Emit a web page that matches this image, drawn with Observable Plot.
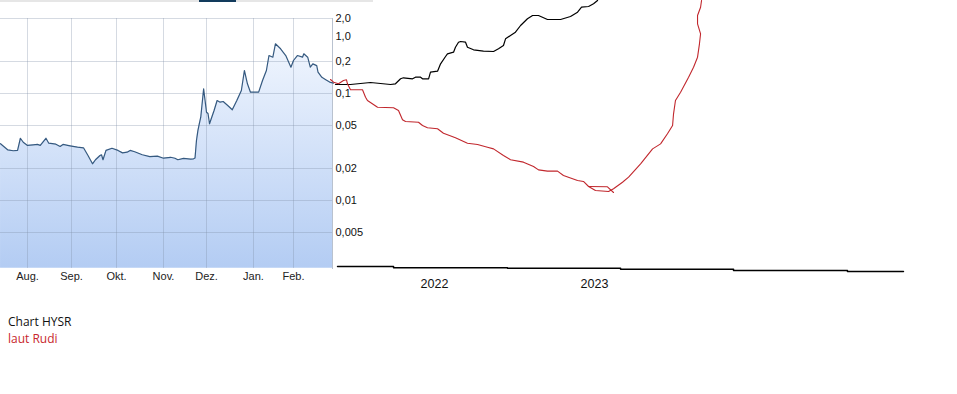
<!DOCTYPE html>
<html><head><meta charset="utf-8">
<script src="https://cdn.jsdelivr.net/npm/d3@7"></script>
<script src="https://cdn.jsdelivr.net/npm/@observablehq/plot@0.6"></script>
<style>
html,body{margin:0;padding:0;background:#fff;}
#wrap{position:relative;width:957px;height:394px;overflow:hidden;}
.layer{position:absolute;left:0;top:0;}
.bar{position:absolute;top:0;height:2px;}
#caption{position:absolute;left:8px;top:313px;font-family:"Open Sans",sans-serif;font-size:12px;line-height:17px;}
</style></head>
<body><div id="wrap">
<div class="bar" style="left:0;width:373px;background:#e6e6e6"></div>
<div class="bar" style="left:199px;width:37px;background:#123b5c"></div>
<div id="left" class="layer"></div>
<div id="right" class="layer"></div>
<div id="caption"><div style="color:#111">Chart HYSR</div><div style="color:#c8262d">laut Rudi</div></div>
</div>
<script>
// ---- left panel: HYSR price ----
const stockDates = ["2020-07-13","2020-07-18","2020-07-22","2020-07-25","2020-07-27","2020-07-29","2020-08-01","2020-08-05","2020-08-08","2020-08-10","2020-08-14","2020-08-16","2020-08-21","2020-08-24","2020-08-26","2020-08-31","2020-09-05","2020-09-09","2020-09-12","2020-09-15","2020-09-17","2020-09-20","2020-09-21","2020-09-22","2020-09-24","2020-09-28","2020-10-02","2020-10-05","2020-10-08","2020-10-10","2020-10-13","2020-10-18","2020-10-23","2020-10-28","2020-11-01","2020-11-06","2020-11-09","2020-11-11","2020-11-15","2020-11-20","2020-11-22","2020-11-23","2020-11-24","2020-11-25","2020-11-26","2020-11-27","2020-11-29","2020-12-01","2020-12-02","2020-12-03","2020-12-06","2020-12-08","2020-12-10","2020-12-12","2020-12-15","2020-12-18","2020-12-21","2020-12-24","2020-12-26","2020-12-28","2020-12-30","2021-01-02","2021-01-05","2021-01-08","2021-01-11","2021-01-13","2021-01-16","2021-01-18","2021-01-22","2021-01-26","2021-01-30","2021-02-01","2021-02-04","2021-02-08","2021-02-09","2021-02-12","2021-02-14","2021-02-16","2021-02-19","2021-02-20","2021-02-23","2021-02-26","2021-03-01","2021-03-04"];
const stockValues = [0.0339,0.0298,0.0292,0.0294,0.0381,0.0350,0.0327,0.0331,0.0334,0.0327,0.0381,0.0343,0.0336,0.0320,0.0334,0.0324,0.0315,0.0311,0.0264,0.0221,0.0241,0.0264,0.0268,0.0241,0.0294,0.0308,0.0294,0.0279,0.0283,0.0294,0.0286,0.0268,0.0258,0.0260,0.0249,0.0254,0.0249,0.0241,0.0248,0.0244,0.0246,0.0250,0.0363,0.0449,0.0522,0.0598,0.1107,0.0667,0.0648,0.0519,0.0692,0.0859,0.0829,0.0841,0.0771,0.0703,0.0859,0.1067,0.1646,0.1234,0.1029,0.1029,0.1029,0.1325,0.1646,0.2943,0.2638,0.625,0.453,0.294,0.1768,0.2133,0.294,0.264,0.328,0.264,0.1768,0.190,0.183,0.159,0.142,0.135,0.128,0.125];
const yFloor = 0.0023;
const monthTicks = ["2020-08-01","2020-09-01","2020-10-01","2020-11-01","2020-12-01","2021-01-01","2021-02-01"];
const monthLabels = ["Aug.","Sep.","Okt.","Nov.","Dez.","Jan.","Feb."];
const yTicks = [2, 1, 0.2, 0.1, 0.05, 0.02, 0.01, 0.005];
const yTickLabels = ["2,0","1,0","0,2","0,1","0,05","0,02","0,01","0,005"];
const yGridTicks = [2, 0.2, 0.1, 0.05, 0.02, 0.01, 0.005];

// ---- right panel: hand-drawn paths ----
const chartYears = [2021.381,2021.475,2021.600,2021.725,2021.756,2021.788,2021.806,2021.863,2021.881,2021.913,2021.925,2021.963,2021.975,2022.019,2022.038,2022.069,2022.081,2022.119,2022.131,2022.150,2022.163,2022.194,2022.206,2022.244,2022.306,2022.369,2022.400,2022.431,2022.444,2022.475,2022.506,2022.538,2022.581,2022.613,2022.650,2022.706,2022.788,2022.850,2022.894,2022.919,2022.963,2022.994,2023.019];
const chartValues = [0.1215,0.1215,0.1269,0.1215,0.1234,0.1375,0.1405,0.1375,0.1424,0.1424,0.1375,0.1375,0.1586,0.1621,0.1903,0.2759,0.328,0.364,0.502,0.693,0.725,0.693,0.502,0.425,0.388,0.381,0.453,0.560,0.862,1.04,1.18,1.527,1.977,2.245,2.245,1.924,1.924,2.16,2.549,3.09,3.175,3.52,4.0];
const rudiYears = [2021.350,2021.369,2021.400,2021.431,2021.450,2021.456,2021.475,2021.550,2021.569,2021.581,2021.644,2021.744,2021.775,2021.800,2021.819,2021.900,2021.925,2021.956,2022.019,2022.056,2022.131,2022.206,2022.269,2022.331,2022.369,2022.431,2022.475,2022.556,2022.619,2022.650,2022.706,2022.769,2022.806,2022.894,2022.931,2022.963,2023.006,2023.088,2023.119,2023.175,2023.213,2023.288,2023.363,2023.413,2023.456,2023.488,2023.494,2023.506,2023.538,2023.588,2023.619,2023.644,2023.656,2023.663,2023.644,2023.644,2023.663,2023.669];
const rudiValues = [0.1354,0.1277,0.1234,0.1325,0.1346,0.1234,0.1086,0.1086,0.0923,0.0859,0.0743,0.0734,0.0692,0.0566,0.0545,0.0537,0.0500,0.0476,0.0466,0.0424,0.0385,0.0343,0.0334,0.0315,0.0304,0.0264,0.0241,0.0229,0.0209,0.0194,0.0189,0.0189,0.0172,0.0154,0.0151,0.01354,0.01242,0.01215,0.01288,0.01486,0.01657,0.0221,0.0304,0.0338,0.0419,0.0500,0.0644,0.0859,0.1029,0.1424,0.1768,0.264,0.625,1.11,1.63,2.245,3.09,4.0];
const rudiLoopYears = [2022.963,2023.081,2023.119];
const rudiLoopValues = [0.01354,0.01346,0.01189];
const baseYears = [2021.394,2021.744,2022.456,2023.163,2023.869,2024.581,2024.931];
const baseValues = [0.00240,0.00233,0.00231,0.00226,0.00220,0.00215,0.00215];
const yearTicks = [2022, 2023];

const yScale = () => ({type: "log", domain: [0.005,0.01,0.02,0.05,0.1,0.2,1,2], range: [232,200,168,125,93,61,36,18]});

const stock = stockDates.map((d, i) => ({date: new Date(d), value: stockValues[i]}));
const monthDates = monthTicks.map(d => new Date(d));
const monthMap = new Map(monthDates.map((d, i) => [d.getTime(), monthLabels[i]]));
const yLabelRows = yTicks.map((v, i) => ({value: v, label: yTickLabels[i]}));

const left = Plot.plot({
  width: 372, height: 298,
  marginLeft: 0, marginRight: 40, marginTop: 18, marginBottom: 30,
  style: {fontFamily: "'Liberation Sans', Arial, sans-serif", fontSize: "11px", color: "#222", background: "transparent", overflow: "visible"},
  x: {type: "utc", domain: monthDates, range: [27,71,116,163,206,253,293], axis: null},
  y: {...yScale(), axis: null},
  marks: [
    Plot.areaY(stock, {x: "date", y1: yFloor, y2: "value", fill: "url(#hysrFill)"}),
    Plot.gridX({ticks: monthDates, stroke: "#7f8fa6", strokeOpacity: 0.33}),
    Plot.gridY({ticks: yGridTicks, stroke: "#7f8fa6", strokeOpacity: 0.33}),
    Plot.frame({anchor: "right", stroke: "#b9c2cf"}),
    Plot.lineY(stock, {x: "date", y: "value", stroke: "#35597f", strokeWidth: 1.2}),
    Plot.axisX({ticks: monthDates, tickSize: 0, tickPadding: 4, label: null, tickFormat: d => monthMap.get(+d), fill: "#222"}),
    Plot.text(yLabelRows, {y: "value", text: "label", frameAnchor: "right", dx: 3, textAnchor: "start", fill: "#111", fontSize: 11})
  ]
});
document.getElementById("left").appendChild(left);
{
  const svg = left.tagName.toLowerCase() === "svg" ? left : left.querySelector("svg");
  const ns = "http://www.w3.org/2000/svg";
  const defs = document.createElementNS(ns, "defs");
  defs.innerHTML = '<linearGradient id="hysrFill" gradientUnits="userSpaceOnUse" x1="0" y1="18" x2="0" y2="268"><stop offset="0" stop-color="#f7faff"/><stop offset="1" stop-color="#b3ccf3"/></linearGradient>';
  svg.insertBefore(defs, svg.firstChild);
}

const chart = chartYears.map((y, i) => ({year: y, value: chartValues[i]}));
const rudi = rudiYears.map((y, i) => ({year: y, value: rudiValues[i]}));
const rudiLoop = rudiLoopYears.map((y, i) => ({year: y, value: rudiLoopValues[i]}));
const base = baseYears.map((y, i) => ({year: y, value: baseValues[i]}));

const right = Plot.plot({
  width: 957, height: 300,
  marginLeft: 0, marginRight: 0, marginTop: 0, marginBottom: 32,
  style: {fontFamily: "'Liberation Sans', Arial, sans-serif", fontSize: "12.5px", color: "#111", background: "transparent", overflow: "visible"},
  x: {domain: [2022, 2023], range: [434, 594], axis: null},
  y: {...yScale(), axis: null},
  marks: [
    Plot.lineY(base, {x: "year", y: "value", stroke: "#000", strokeWidth: 1.5, curve: "step-after"}),
    Plot.lineY(chart, {x: "year", y: "value", stroke: "#000", strokeWidth: 1.2}),
    Plot.lineY(rudi, {x: "year", y: "value", stroke: "#c1272d", strokeWidth: 1.1}),
    Plot.lineY(rudiLoop, {x: "year", y: "value", stroke: "#c1272d", strokeWidth: 1.1}),
    Plot.axisX({ticks: yearTicks, tickSize: 0, tickPadding: 11, label: null, tickFormat: d => String(d), fill: "#111"})
  ]
});
document.getElementById("right").appendChild(right);
</script>
</body></html>
